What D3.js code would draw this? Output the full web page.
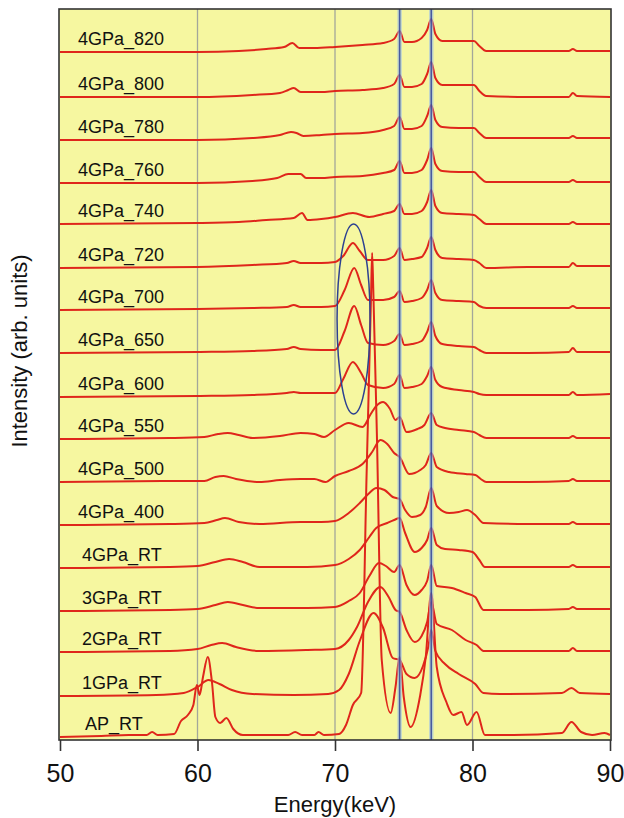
<!DOCTYPE html>
<html>
<head>
<meta charset="utf-8">
<script src="https://cdnjs.cloudflare.com/ajax/libs/d3/7.8.5/d3.min.js"></script>
<style>
  body { margin: 0; background: #fff; }
  svg { display: block; font-family: "Liberation Sans", Arial, Helvetica, sans-serif; }
</style>
</head>
<body>
<div id="chart"></div>
<script>
// spectra, bottom to top. heights are above each trace's own baseline
var labels = ["AP_RT", "1GPa_RT", "2GPa_RT", "3GPa_RT", "4GPa_RT", "4GPa_400", "4GPa_500",
              "4GPa_550", "4GPa_600", "4GPa_650", "4GPa_700", "4GPa_720", "4GPa_740",
              "4GPa_760", "4GPa_780", "4GPa_800", "4GPa_820"];
var offsets = [2, 43, 87, 128, 171, 214, 257, 300, 342, 386, 429, 471, 515, 556, 599, 642, 687];

var sAP = [[50,0],[53,1],[55,2],[56.3,2],[56.7,5],[57.1,2],[58.3,3],[58.8,16],[59.3,22],[59.7,32],
  [59.95,52],[60.15,42],[60.4,60],[60.75,80],[61.05,55],[61.3,20],[61.65,14],[62.1,19],[62.6,8],
  [63.3,2],[66.6,2],[67.1,5],[67.6,2],[68.5,2],[68.8,5],[69.2,2],[70.3,3],[70.8,12],[71.3,32],
  [71.9,44],[72.3,264],[72.62,440],[72.7,484],[72.78,450],[73.05,300],[73.4,77],[74.05,24],
  [74.4,50],[74.7,80],[75.0,40],[75.5,10],[76.2,42],[76.6,80],[77,144],[77.4,70],[78.1,35],
  [78.6,22],[79.2,25],[79.6,12],[80.3,25],[80.9,2],[83,2],[86.5,4],[87.2,15],[87.9,5],[88.7,2],
  [89.6,4],[90,2]];
var s1GPa = [[50,0],[57,1],[59,3],[60,9],[60.8,16],[61.6,12],[62.5,6],[64,2],[67,1],[69.5,2],[70.3,6],
  [71,22],[71.8,55],[72.8,83],[73.5,68],[74.2,38],[74.7,36],[75.2,22],[75.8,18],[76.4,30],[76.8,50],
  [77,66],[77.3,45],[78,32],[79,22],[80.2,12],[80.8,3],[82,2],[86.5,3],[87.2,8],[87.8,3],[90,2]];
var s2GPa = [[50,0],[58,1],[60,3],[61,7],[61.8,9],[62.8,5],[64.5,1],[68,2],[70,3],[71,12],[71.6,25],
  [72.4,50],[73.3,65],[73.9,55],[74.4,42],[74.7,40],[75.2,22],[75.8,10],[76.3,16],[76.7,30],[77,50],
  [77.4,28],[78.5,22],[79.5,12],[80.3,7],[80.8,1],[84,1],[87,1],[87.3,4],[87.6,1],[90,1]];
var s3GPa = [[50,0],[58,1],[60,2],[61.3,6],[62.2,9],[63.3,6],[64.5,3],[68,3],[70,4],[71,10],[71.8,18],
  [72.5,35],[73.2,48],[73.7,45],[74.3,39],[74.7,46],[75.2,26],[75.8,16],[76.3,21],[76.7,30],[77,46],
  [77.4,25],[78.5,23],[79.5,18],[80.2,14],[80.8,1],[84,1],[87,2],[87.3,4],[87.6,2],[90,2]];
var s4GPa = [[50,0],[58,1],[60,2],[61.3,6],[62.3,9],[63.3,6],[64.5,1],[68,1],[70,3],[71,9],[71.8,18],
  [72.5,31],[73,40],[73.8,45],[74.3,48],[74.7,50],[75.1,35],[75.8,16],[76.3,20],[76.7,28],[77,40],
  [77.4,23],[78,19],[79,18],[80,16],[80.5,8],[80.9,1],[84,1],[87,1],[87.3,3],[87.6,1],[90,1]];
var s400 = [[50,0],[58,1],[60.5,2],[61.4,5],[62,7],[63,3],[64.5,1],[67.5,3],[69,3],[70,4],[71,12],
  [71.8,22],[72.5,32],[73,37],[73.6,35],[74.2,28],[74.7,26],[75.1,15],[75.6,8],[76.2,10],[76.6,18],
  [77,37],[77.4,19],[78.3,12],[79,13],[79.6,15],[80.2,10],[80.8,2],[84,1],[87,1],[87.3,3],[87.6,1],[90,1]];
var s500 = [[50,0],[58,1],[60.5,1],[61.3,5],[61.9,6],[62.8,3],[64.5,0],[66,2],[67.5,3],[68.5,3],
  [69.3,0],[70,6],[71,11],[72,18],[72.7,30],[73.3,42],[73.8,38],[74.3,29],[74.7,25],[75.4,8],
  [76.2,12],[76.6,17],[77,29],[77.4,15],[78.3,10],[79.5,8],[80.2,7],[80.6,3],[81,0],[84,0],[87,1],
  [87.3,3],[87.6,1],[90,1]];
var s550 = [[50,0],[58,1],[60.5,2],[61.5,5],[62.2,6],[63,4],[64,1],[66,3],[67.5,6],[68.5,5],[69.2,2],
  [70,9],[71,16],[72,12],[72.6,25],[73,33],[73.5,37],[74,30],[74.4,19],[74.7,22],[75.2,7],[76,10],
  [76.5,14],[77,26],[77.4,14],[78,11],[79,9],[80.1,7],[80.5,4],[81,1],[84,1],[87,1],[87.3,3],
  [87.6,1],[90,1]];
var s600 = [[50,0],[60,1],[64,2],[66.5,4],[67,5],[67.5,4],[69,4],[70,4],[70.6,18],[71.3,35],[71.9,24],
  [72.4,12],[73.5,9],[74.3,13],[74.7,22],[75.05,9],[75.6,10],[76.3,13],[76.7,21],[77,30],[77.3,17],
  [77.8,10],[79,7],[80.1,5],[80.5,3],[81,2],[84,2],[87,2],[87.3,5],[87.6,2],[90,3]];
var s650 = [[50,0],[60,1],[64,2],[66.5,4],[67,6],[67.5,4],[69,3],[70,3],[70.7,22],[71.4,47],[71.9,28],
  [72.4,10],[73.5,8],[74.3,12],[74.7,19],[75.05,8],[75.6,9],[76.3,12],[76.7,21],[77,31],[77.3,17],
  [77.8,9],[79,7],[80.1,6],[80.5,3],[81,0],[84,0],[87,1],[87.3,5],[87.6,1],[90,1]];
var s700 = [[50,0],[60,1],[64,2],[66.5,3],[67,5],[67.5,3],[69,3],[70,4],[70.7,20],[71.4,42],[71.9,25],
  [72.4,10],[73.5,10],[74.3,13],[74.7,19],[75.05,8],[75.6,9],[76.3,12],[76.7,20],[77,30],[77.3,17],
  [77.8,10],[79,9],[80.1,8],[80.5,4],[81,2],[84,2],[87,2],[87.3,4],[87.6,2],[90,2]];
var s720 = [[50,0],[60,1],[64,3],[66.5,5],[67,7],[67.5,5],[69,5],[70,6],[70.6,12],[71.3,25],[71.8,17],
  [72.4,8],[73.5,8],[74.3,12],[74.7,20],[75.05,8],[75.6,9],[76.3,11],[76.7,20],[77,31],[77.3,18],
  [77.8,10],[79,9],[80.1,8],[80.5,5],[81,0],[84,1],[87,1],[87.3,5],[87.6,2],[90,2]];
var s740 = [[50,0],[60,1],[63,2],[65,4],[67,6],[67.6,11],[68,4],[69,5],[70,7],[71.3,11],[72.5,7],
  [73.5,10],[74.3,13],[74.7,20],[75.05,10],[75.6,10],[76.3,13],[76.7,22],[77,34],[77.3,18],[77.8,11],
  [79,10],[80.1,9],[80.5,5],[81,0],[84,0],[87,0],[87.3,2],[87.6,0],[90,0]];
var s760 = [[50,0],[60,0],[64,2],[65.8,5],[66.6,9],[67.5,9],[67.9,5],[69,5],[70,6],[72,7],[73.5,10],
  [74.3,13],[74.7,22],[75.05,10],[75.6,10],[76.3,13],[76.7,23],[77,35],[77.3,19],[77.8,12],[79,11],
  [80.1,11],[80.5,6],[81,1],[84,1],[87,1],[87.3,3],[87.6,1],[90,1]];
var s780 = [[50,0],[60,0],[64,2],[66,5],[66.8,8],[67.2,7],[67.7,4],[69,5],[70,6],[72,7],[73.5,10],
  [74.3,14],[74.7,23],[75.05,11],[75.6,11],[76.3,14],[76.7,24],[77,35],[77.3,20],[77.8,13],[79,12],
  [80.1,12],[80.5,7],[81,2],[84,2],[87,2],[87.3,4],[87.6,2],[90,2]];
var s800 = [[50,0],[60,0],[64,2],[66,4],[66.6,7],[67,9],[67.5,5],[69,5],[70,6],[72,7],[73.5,9],
  [74.3,13],[74.7,22],[75.05,10],[75.6,10],[76.3,13],[76.7,23],[77,35],[77.3,19],[77.8,12],[79,12],
  [80.1,12],[80.5,6],[81,1],[84,0],[87,0],[87.3,4],[87.6,1],[90,0]];
var s820 = [[50,0],[55,0],[60,0],[63,1],[65,3],[66.3,5],[66.9,9],[67.4,4],[68.5,4],[70,5],[72,7],
  [73.5,9],[74.3,13],[74.7,21],[75.05,10],[75.6,10],[76.3,14],[76.7,22],[77,33],[77.3,18],[77.8,11],
  [79,11],[80.1,11],[80.5,6],[81,1],[84,1],[87,1],[87.3,3],[87.6,1],[90,1]];

var series = [sAP, s1GPa, s2GPa, s3GPa, s4GPa, s400, s500, s550, s600, s650, s700, s720, s740,
              s760, s780, s800, s820];

var xTicks = [50, 60, 70, 80, 90];
var gridKeV = [60, 70, 80];
var markerKeV = [74.7, 77.0];
// ellipse round the 71.4 keV peaks: centre energy, centre level, half width (keV), half height
var ringKeV = 71.35, ringLevel = 420, ringHalfKeV = 1.2, ringHalfLevel = 95;

var w = 624, h = 818;
var plotL = 59, plotR = 611, plotT = 9, plotB = 740;

var svg = d3.select('#chart')
            .append('svg')
            .attr('width', w)
            .attr('height', h);

var x = d3.scaleLinear().domain([50, 90]).range([60, 610]);
var y = d3.scaleLinear().domain([0, 730]).range([739, 9]);

svg.append('defs').append('clipPath').attr('id', 'plotclip')
   .append('rect')
   .attr('x', plotL).attr('y', plotT)
   .attr('width', plotR - plotL).attr('height', plotB - plotT);

svg.append('rect')
   .attr('x', plotL).attr('y', plotT)
   .attr('width', plotR - plotL).attr('height', plotB - plotT)
   .attr('fill', '#f6f7a0');

var plot = svg.append('g').attr('clip-path', 'url(#plotclip)');

plot.selectAll('line.grid')
    .data(gridKeV)
    .enter()
    .append('line')
    .attr('class', 'grid')
    .attr('x1', function(d) { return x(d); })
    .attr('x2', function(d) { return x(d); })
    .attr('y1', plotT)
    .attr('y2', plotB)
    .attr('stroke', '#a3a79a')
    .attr('stroke-width', 1.3);

var line = d3.line()
             .x(function(d) { return x(d[0]); })
             .curve(d3.curveMonotoneX);

plot.selectAll('path.trace')
    .data(series)
    .enter()
    .append('path')
    .attr('class', 'trace')
    .attr('d', function(d, i) {
        return line.y(function(p) { return y(p[1] + offsets[i]); })(d);
    })
    .attr('fill', 'none')
    .attr('stroke', '#df261b')
    .attr('stroke-width', 2)
    .attr('stroke-linejoin', 'round');

// blue marker lines, light halo under a dark core
plot.selectAll('line.halo')
    .data(markerKeV)
    .enter()
    .append('line')
    .attr('class', 'halo')
    .attr('x1', function(d) { return x(d); })
    .attr('x2', function(d) { return x(d); })
    .attr('y1', plotT)
    .attr('y2', plotB)
    .attr('stroke', '#9cc0e8')
    .attr('stroke-opacity', 0.6)
    .attr('stroke-width', 4.5);

plot.selectAll('line.marker')
    .data(markerKeV)
    .enter()
    .append('line')
    .attr('class', 'marker')
    .attr('x1', function(d) { return x(d); })
    .attr('x2', function(d) { return x(d); })
    .attr('y1', plotT)
    .attr('y2', plotB)
    .attr('stroke', '#2a3b92')
    .attr('stroke-opacity', 0.8)
    .attr('stroke-width', 1.6);

plot.append('ellipse')
    .attr('cx', x(ringKeV))
    .attr('cy', y(ringLevel))
    .attr('rx', x(ringKeV + ringHalfKeV) - x(ringKeV))
    .attr('ry', y(ringLevel - ringHalfLevel) - y(ringLevel))
    .attr('fill', 'none')
    .attr('stroke', '#2d4191')
    .attr('stroke-width', 1.5);

svg.selectAll('text.lab')
   .data(labels)
   .enter()
   .append('text')
   .attr('class', 'lab')
   .attr('x', function(d) { return d == 'AP_RT' ? 85 : (d.indexOf('_RT') > 0 ? 82 : 78); })
   .attr('y', function(d, i) { return y(offsets[i]) - 7; })
   .attr('font-size', 18)
   .attr('fill', '#111')
   .text(function(d) { return d; });

svg.append('rect')
   .attr('x', plotL).attr('y', plotT)
   .attr('width', plotR - plotL).attr('height', plotB - plotT)
   .attr('fill', 'none')
   .attr('stroke', '#333')
   .attr('stroke-width', 1.6);

var xAxis = d3.axisBottom(x)
              .tickValues(xTicks)
              .tickSize(11)
              .tickPadding(13)
              .tickFormat(d3.format('d'));

var gx = svg.append('g')
            .attr('transform', 'translate(0,' + plotB + ')')
            .call(xAxis);
gx.select('.domain').remove();
gx.selectAll('.tick line').attr('stroke', '#333').attr('stroke-width', 1.6);
gx.selectAll('.tick text')
  .attr('font-size', 25)
  .attr('font-family', '"Liberation Sans", Arial, sans-serif')
  .attr('fill', '#111');

svg.append('text')
   .attr('x', 335)
   .attr('y', 812)
   .attr('text-anchor', 'middle')
   .attr('font-size', 22)
   .attr('fill', '#111')
   .text('Energy(keV)');

svg.append('text')
   .attr('transform', 'translate(27,351) rotate(-90)')
   .attr('text-anchor', 'middle')
   .attr('font-size', 22)
   .attr('fill', '#111')
   .text('Intensity (arb. units)');
</script>
</body>
</html>
